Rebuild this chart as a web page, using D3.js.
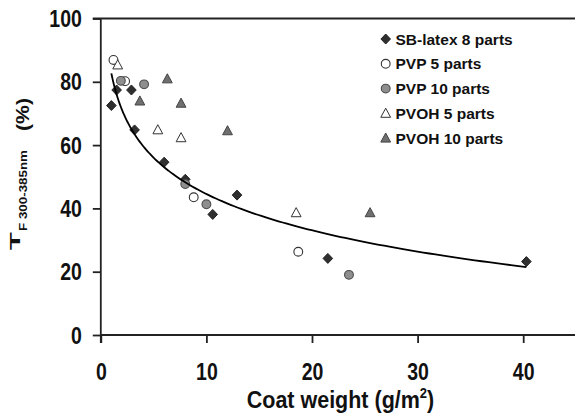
<!DOCTYPE html>
<html>
<head>
<meta charset="utf-8">
<script src="https://cdn.jsdelivr.net/npm/d3@7"></script>
<style>
  html, body { margin: 0; padding: 0; background: #fff; }
  svg { display: block; font-family: "Liberation Sans", Arial, Helvetica, sans-serif; font-weight: bold; }
</style>
</head>
<body>
<svg id="chart" width="575" height="415"></svg>
<script>
// Transmittance (300-385 nm) versus coat weight for each binder formulation
const seriesNames = ["SB-latex 8 parts", "PVP 5 parts", "PVP 10 parts", "PVOH 5 parts", "PVOH 10 parts"];

const sbLatexX = [1.0, 1.5, 2.9, 3.2, 6.0, 8.0, 10.6, 12.9, 21.5, 40.3];
const sbLatexY = [72.5, 77.4, 77.4, 64.8, 54.6, 49.2, 38.1, 44.2, 24.2, 23.2];

const pvp5X = [1.2, 2.3, 8.8, 18.7];
const pvp5Y = [86.9, 80.2, 43.5, 26.3];

const pvp10X = [1.9, 4.1, 8.0, 10.0, 23.5];
const pvp10Y = [80.3, 79.2, 47.7, 41.3, 19.0];

const pvoh5X = [1.6, 5.4, 7.6, 18.5];
const pvoh5Y = [85.3, 64.8, 62.3, 38.6];

const pvoh10X = [3.7, 6.3, 7.6, 12.0, 25.5];
const pvoh10Y = [73.9, 80.9, 73.2, 64.5, 38.6];

const xTicks = [0, 10, 20, 30, 40];
const yTicks = [0, 20, 40, 60, 80, 100];

const svg = d3.select("#chart");

const x = d3.scaleLinear().domain([0, 45]).range([100.8, 576]);
const y = d3.scaleLinear().domain([0, 100]).range([335, 18.5]);

// Marker shapes
const shapes = {
  diamond: "M0,-5L4.8,0L0,5L-4.8,0Z",
  triangle: "M0,-5.2L4.9,3.9L-4.9,3.9Z"
};
const styles = [
  { kind: "diamond",  fill: "#2f2f2f", stroke: "#222" },
  { kind: "circle",   fill: "#ffffff", stroke: "#333" },
  { kind: "circle",   fill: "#8e8e8e", stroke: "#4a4a4a" },
  { kind: "triangle", fill: "#ffffff", stroke: "#333" },
  { kind: "triangle", fill: "#6f6f6f", stroke: "#444" }
];

function drawMarker(g, st) {
  if (st.kind === "circle") {
    g.append("circle").attr("r", 4.4)
      .attr("fill", st.fill).attr("stroke", st.stroke).attr("stroke-width", 1.1);
  } else {
    g.append("path").attr("d", shapes[st.kind])
      .attr("fill", st.fill).attr("stroke", st.stroke).attr("stroke-width", 1)
      .attr("stroke-linejoin", "round");
  }
}

const series = [
  [sbLatexX, sbLatexY],
  [pvp5X, pvp5Y],
  [pvp10X, pvp10Y],
  [pvoh5X, pvoh5Y],
  [pvoh10X, pvoh10Y]
];

// Axes
const axisColor = "#222";
const yAxis = d3.axisLeft(y).tickValues(yTicks).tickSize(8).tickFormat(d3.format("d"));
const gy = svg.append("g").attr("transform", "translate(100.8,0)").call(yAxis);
gy.select(".domain").remove();
gy.selectAll(".tick line").attr("stroke", axisColor).attr("stroke-width", 1.8);
gy.selectAll(".tick text")
  .attr("x", null).attr("dy", null)
  .attr("text-anchor", "end")
  .attr("font-size", 19.5)
  .attr("fill", "#111")
  .attr("transform", "translate(-19,8) scale(1,1.2)");

const xAxis = d3.axisBottom(x).tickValues(xTicks).tickSize(8).tickFormat(d3.format("d"));
const gx = svg.append("g").attr("transform", "translate(0,335)").call(xAxis);
gx.select(".domain").remove();
gx.selectAll(".tick line").attr("stroke", axisColor).attr("stroke-width", 1.8);
gx.selectAll(".tick text")
  .attr("y", null).attr("dy", null)
  .attr("text-anchor", "middle")
  .attr("font-size", 19.5)
  .attr("fill", "#111")
  .attr("transform", "translate(0,45) scale(1,1.2)");

// Frame lines: left, bottom, top
svg.append("line").attr("x1", x(0)).attr("x2", x(0)).attr("y1", y(100)).attr("y2", 343)
  .attr("stroke", axisColor).attr("stroke-width", 1.8);
svg.append("line").attr("x1", x(0)).attr("x2", 575).attr("y1", y(0)).attr("y2", y(0))
  .attr("stroke", axisColor).attr("stroke-width", 1.8);
svg.append("line").attr("x1", x(0) - 8).attr("x2", 575).attr("y1", y(100)).attr("y2", y(100))
  .attr("stroke", axisColor).attr("stroke-width", 1.8);

// Data points
series.forEach((s, i) => {
  const pts = s[0].map((xv, j) => [xv, s[1][j]]);
  svg.append("g").selectAll("g").data(pts).join("g")
    .attr("transform", d => `translate(${x(d[0])},${y(d[1])})`)
    .each(function () { drawMarker(d3.select(this), styles[i]); });
});

// Logarithmic least-squares trend through the SB-latex points
const lx = sbLatexX.map(Math.log);
const mx = d3.mean(lx), my = d3.mean(sbLatexY);
const slope = d3.sum(lx, (v, i) => (v - mx) * (sbLatexY[i] - my)) / d3.sum(lx, v => (v - mx) ** 2);
const intercept = my - slope * mx;
const [xmin, xmax] = d3.extent(sbLatexX);
const curvePts = d3.range(0, 201).map(k => {
  const xv = xmin * Math.pow(xmax / xmin, k / 200);
  return [xv, intercept + slope * Math.log(xv)];
});
svg.append("path")
  .attr("d", d3.line().x(d => x(d[0])).y(d => y(d[1]))(curvePts))
  .attr("fill", "none").attr("stroke", "#000").attr("stroke-width", 1.8);

// Legend
const legend = svg.append("g");
seriesNames.forEach((name, i) => {
  const cy = 39 + i * 24.8;
  const g = legend.append("g").attr("transform", `translate(385.7,${cy})`);
  drawMarker(g, styles[i]);
  legend.append("text").attr("x", 395.5).attr("y", cy + 5.6)
    .attr("font-size", 15.5).attr("fill", "#111").text(name);
});

// X-axis title
const xt = svg.append("text")
  .attr("transform", "translate(340.5,408) scale(1,1.15)")
  .attr("text-anchor", "middle").attr("font-size", 21.5).attr("fill", "#111");
xt.append("tspan").text("Coat weight (g/m");
xt.append("tspan").attr("font-size", 13).attr("dy", -9).text("2");
xt.append("tspan").attr("dy", 9).text(")");

// Y-axis title: T with subscript and unit
const yt = svg.append("g").attr("transform", "rotate(-90)").attr("fill", "#111");
yt.append("text").attr("transform", "translate(-250,20) scale(2.0,1)")
  .attr("font-size", 14.5).text("T");
yt.append("text").attr("x", -231).attr("y", 27).attr("font-size", 11.5)
  .attr("textLength", 81).attr("lengthAdjust", "spacingAndGlyphs").text("F 300-385nm");
yt.append("text").attr("x", -131).attr("y", 29).attr("font-size", 18)
  .attr("textLength", 33).attr("lengthAdjust", "spacingAndGlyphs").text("(%)");
</script>
</body>
</html>
